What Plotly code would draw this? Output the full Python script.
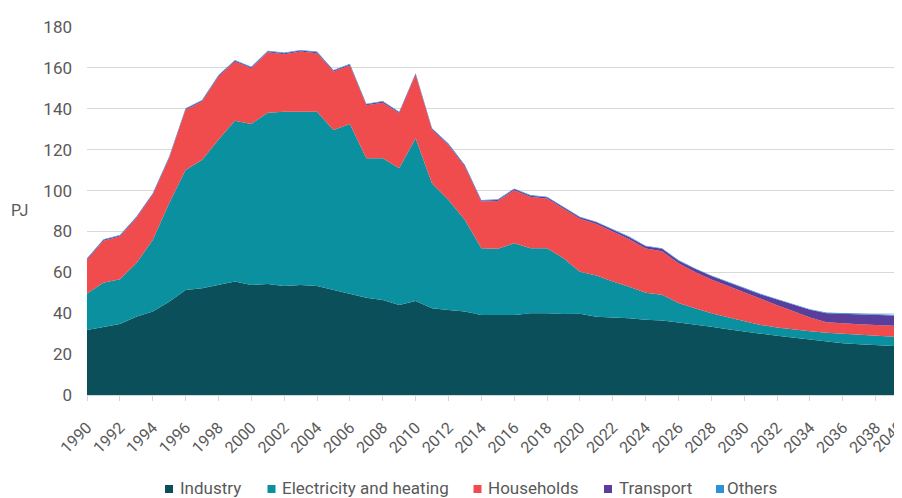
import plotly.graph_objects as go

years = list(range(1990, 2041))

industry = [31.8, 33.4, 34.7, 38.3, 40.8, 45.6, 51.4, 52.2, 53.8, 55.5,
            53.8, 54.3, 53.3, 53.8, 53.3, 51.4, 49.8, 47.6, 46.5, 44.0,
            46.0, 42.4, 41.6, 40.8, 39.1, 39.1, 39.1, 40.0, 40.0, 39.6,
            39.8, 38.3, 38.0, 37.5, 36.8, 36.4, 35.5, 34.6, 33.4, 32.2,
            31.0, 30.0, 29.0, 28.0, 27.0, 26.0, 25.3, 24.8, 24.3, 24.0,
            23.7]

electricity = [17.9, 21.5, 21.9, 26.1, 35.0, 48.2, 58.7, 62.8, 71.0, 78.7,
               78.8, 83.8, 85.3, 84.8, 85.3, 78.2, 82.8, 68.2, 69.3, 66.9,
               79.6, 61.1, 53.8, 44.8, 32.7, 32.4, 35.1, 31.8, 31.8, 27.3,
               20.5, 20.2, 17.5, 15.5, 13.2, 12.6, 9.5, 7.8, 6.6, 5.8,
               5.0, 4.3, 4.0, 4.0, 4.2, 4.5, 4.7, 4.7, 4.7, 4.5,
               4.3]

households = [16.4, 20.5, 20.9, 22.0, 22.1, 22.0, 29.4, 28.5, 30.9, 28.9,
              27.2, 29.5, 28.1, 29.4, 28.6, 28.6, 28.6, 25.9, 27.2, 26.9,
              31.0, 26.2, 26.8, 26.1, 22.8, 23.4, 26.0, 25.1, 24.3, 24.1,
              25.9, 25.2, 24.3, 23.2, 21.6, 21.3, 19.4, 17.8, 16.5, 15.3,
              14.1, 12.5, 10.9, 9.0, 6.7, 5.1, 5.0, 5.1, 5.3, 5.4,
              5.5]

transport = [0.5, 0.5, 0.5, 0.5, 0.5, 0.5, 0.5, 0.5, 0.5, 0.5,
             0.5, 0.5, 0.5, 0.5, 0.5, 0.5, 0.5, 0.5, 0.5, 0.5,
             0.5, 0.5, 0.5, 0.5, 0.5, 0.5, 0.5, 0.6, 0.6, 0.7,
             0.7, 0.8, 0.9, 1.0, 1.1, 1.2, 1.3, 1.5, 1.7, 1.9,
             2.1, 2.4, 2.8, 3.2, 3.8, 4.4, 4.7, 4.9, 5.0, 5.1,
             5.2]

others = [0.3] * 51

series_names = ["Industry", "Electricity and heating", "Households", "Transport", "Others"]
series_values = [industry, electricity, households, transport, others]
series_colors = ["#0B4F5B", "#0A909F", "#F04B4D", "#5A3E9C", "#2F8FD8"]

tick_years = list(range(1990, 2041, 2))
y_ticks = list(range(0, 181, 20))

# visible x window (the original chart is cropped just before 2040)
X_MIN, X_MAX = 1990, 2039.6

FONT = "Roboto, Open Sans, sans-serif"
GRAY = "#595959"

# The page body has an 8px margin, so the figure is 8px smaller than the window.
W, H = 894, 490
L, R, T, B = 79, 0, 19, 103
# plot area in screenshot pixels: x 87..902, y 27..395
SX0, SX1, SY0, SY1 = 87, 902, 27, 395


def px_x(p):
    return (p - SX0) / (SX1 - SX0)


def px_y(p):
    return (SY1 - p) / (SY1 - SY0)


def year_to_paper(y):
    return (y - X_MIN) / (X_MAX - X_MIN)


fig = go.Figure()
for name, vals, col in zip(series_names, series_values, series_colors):
    fig.add_trace(go.Scatter(
        x=years, y=vals, name=name, stackgroup="one",
        mode="lines", line=dict(width=0, color=col),
        fillcolor=col, showlegend=False,
    ))

# legend drawn as squares + text below the axis
legend_marker_x = [169, 271.5, 477.5, 608, 720]
legend_text_x = [178, 280, 486, 617, 725]
legend_y = 488
annotations = [dict(
    text="PJ", xref="paper", yref="paper", x=px_x(19), y=px_y(210),
    xanchor="center", yanchor="middle", showarrow=False,
    font=dict(family=FONT, size=16, color=GRAY),
)]
# last category label sits just past the cropped right edge
last_tick = tick_years[-1]
annotations.append(dict(
    text=str(last_tick), xref="paper", yref="paper",
    x=year_to_paper(last_tick) + px_x(SX0 + 2), y=px_y(414),
    xanchor="right", yanchor="top", textangle=-45, showarrow=False,
    font=dict(family=FONT, size=16, color=GRAY),
))
shapes = []
for name, col, mx, tx in zip(series_names, series_colors, legend_marker_x, legend_text_x):
    shapes.append(dict(
        type="rect", xref="paper", yref="paper",
        x0=px_x(mx - 4), x1=px_x(mx + 4), y0=px_y(legend_y + 5), y1=px_y(legend_y - 3),
        fillcolor=col, line=dict(width=0),
    ))
    annotations.append(dict(
        text=name, xref="paper", yref="paper", x=px_x(tx), y=px_y(legend_y),
        xanchor="left", yanchor="middle", showarrow=False,
        font=dict(family=FONT, size=17, color=GRAY),
    ))

fig.update_layout(
    width=W, height=H,
    margin=dict(l=L, r=R, t=T, b=B),
    paper_bgcolor="white", plot_bgcolor="white",
    font=dict(family=FONT, size=16, color=GRAY),
    showlegend=False,
    annotations=annotations,
    shapes=shapes,
)

fig.update_xaxes(
    range=[X_MIN, X_MAX], tickmode="array", tickvals=tick_years,
    ticktext=[str(y) for y in tick_years], tickangle=-45,
    showgrid=False, showline=True, linecolor="#CFD9DD", linewidth=1,
    ticks="outside", ticklen=5, tickcolor="#CFD9DD",
    tickfont=dict(family=FONT, size=16, color=GRAY),
    zeroline=False, ticklabelstandoff=11, automargin=False,
    ticklabeloverflow="allow",
)
fig.update_yaxes(
    range=[0, 180], tickmode="array", tickvals=y_ticks,
    showgrid=True, gridcolor="#D9D9D9", gridwidth=1,
    zeroline=False, showline=False, ticks="",
    tickfont=dict(family=FONT, size=17, color=GRAY),
    ticklabelstandoff=14, automargin=False,
)

fig.write_html("out.html")
